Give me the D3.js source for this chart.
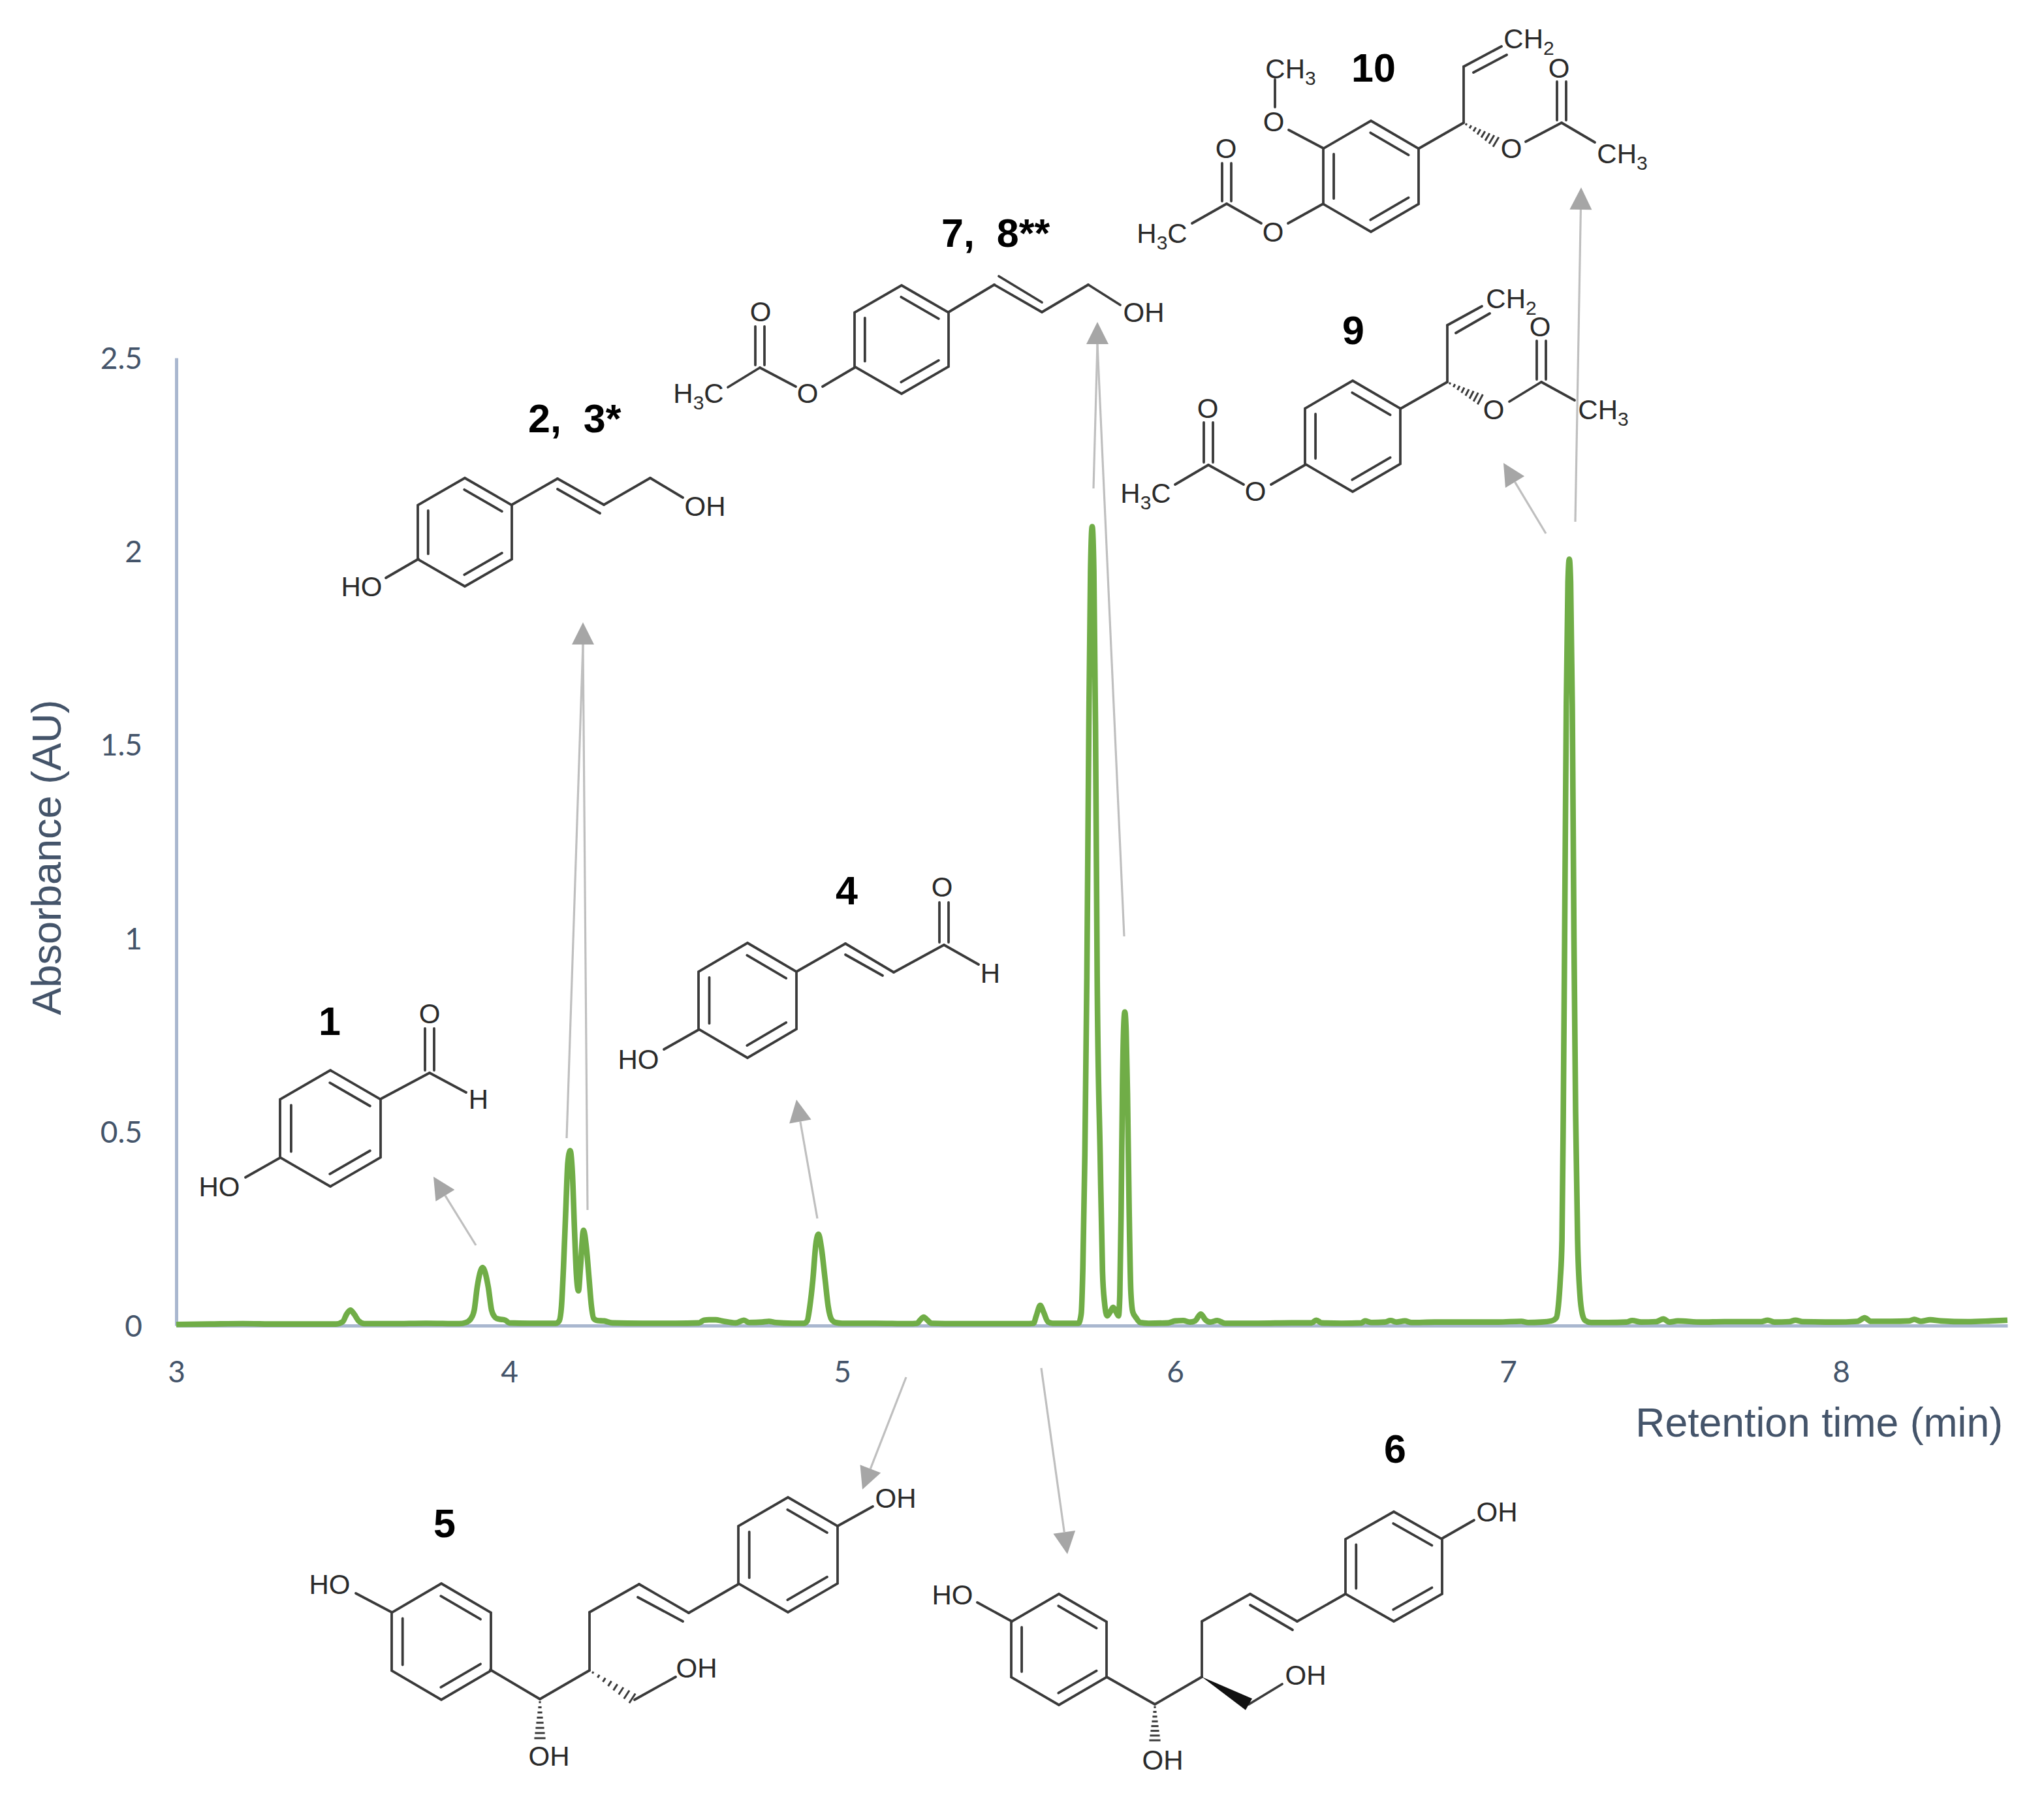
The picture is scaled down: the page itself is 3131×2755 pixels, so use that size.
<!DOCTYPE html>
<html>
<head>
<meta charset="utf-8">
<script src="https://cdnjs.cloudflare.com/ajax/libs/d3/7.8.5/d3.min.js"></script>
<style>
html,body{margin:0;padding:0;background:#fff;}
svg{display:block;}
text{font-family:"Liberation Sans",Arial,sans-serif;}
</style>
</head>
<body>
<svg id="chart" width="3131" height="2755"></svg>
<script>
// ---------- chart data ----------
const xTicks = [3,4,5,6,7,8];
const yTicks = [0,0.5,1,1.5,2,2.5];
const xTitle = "Retention time (min)";
const yTitle = "Absorbance (AU)";

const retentionTime = [
 3.00,3.10,3.20,3.30,3.40,3.48,3.50,3.512,3.523,3.534,3.548,3.565,3.65,3.75,3.85,
 3.87,3.885,3.895,3.904,3.92,3.937,3.947,3.955,3.963,3.975,3.988,4.00,4.06,4.125,
 4.14,4.150,4.157,4.163,4.170,4.176,4.183,4.190,4.196,4.202,4.208,4.214,4.223,4.232,4.240,4.247,4.254,4.265,4.285,4.31,
 4.40,4.50,4.57,4.585,4.60,4.62,4.64,4.68,4.705,4.72,4.76,4.78,4.80,4.85,
 4.885,4.895,4.903,4.912,4.921,4.929,4.937,4.949,4.958,4.968,4.98,5.0,5.1,5.2,
 5.225,5.235,5.245,5.255,5.268,5.35,5.45,5.55,
 5.575,5.583,5.595,5.605,5.618,5.632,5.68,5.71,
 5.718,5.723,5.729,5.735,5.741,5.746,5.751,5.756,5.761,5.766,5.775,5.782,5.788,5.796,5.805,5.814,5.823,5.83,
 5.834,5.838,5.842,5.846,5.849,5.853,5.857,5.862,5.867,5.873,5.883,5.895,5.92,5.98,
 6.0,6.024,6.045,6.06,6.077,6.092,6.105,6.127,6.15,6.25,6.35,6.41,6.424,6.44,6.5,
 6.56,6.57,6.59,6.63,6.647,6.665,6.69,6.71,6.78,6.9,6.97,7.04,7.06,7.10,7.13,
 7.145,7.151,7.157,7.162,7.166,7.170,7.175,7.180,7.184,7.188,7.193,7.198,7.203,7.209,7.216,7.223,7.232,7.25,
 7.30,7.355,7.373,7.40,7.445,7.466,7.485,7.51,7.58,7.65,7.72,7.76,7.78,7.80,7.845,
 7.863,7.885,7.98,8.05,8.071,8.09,8.15,8.205,8.22,8.24,8.268,8.30,8.38,8.45,8.5
];
const absorbance = [
 .003,.004,.005,.004,.004,.004,.010,.030,.040,.030,.012,.005,.005,.006,.005,
 .008,.018,.04,.10,.15,.10,.04,.024,.018,.016,.014,.007,.006,.006,
 .006,.012,.05,.15,.30,.42,.452,.39,.25,.13,.09,.15,.246,.20,.12,.05,.018,.013,.012,.007,
 .006,.006,.007,.014,.015,.015,.012,.007,.014,.008,.009,.011,.008,.006,
 .006,.012,.05,.118,.21,.236,.205,.118,.05,.016,.008,.006,.006,.005,
 .006,.015,.022,.015,.006,.005,.005,.005,
 .006,.025,.052,.035,.01,.006,.006,.006,
 .03,.15,.44,.9,1.55,1.95,2.064,1.95,1.55,.9,.44,.14,.06,.025,.035,.047,.035,.025,
 .08,.3,.62,.78,.81,.76,.6,.3,.09,.035,.02,.008,.006,.007,
 .012,.013,.009,.012,.03,.014,.009,.013,.006,.006,.007,.007,.014,.007,.006,
 .007,.012,.008,.009,.013,.009,.012,.008,.009,.009,.009,.011,.008,.009,.012,
 .02,.05,.12,.22,.55,1.0,1.6,1.92,1.98,1.92,1.6,1.0,.55,.22,.08,.03,.013,.008,
 .008,.009,.013,.009,.01,.017,.009,.012,.009,.01,.01,.01,.014,.009,.01,
 .014,.01,.009,.011,.02,.011,.011,.012,.016,.011,.015,.012,.01,.012,.014
];

// ---------- annotation layout (pixel positions of the drawn structures) ----------
const arrows = [
 {tails:[[729,1907]], tip:[664,1802]},
 {tails:[[868,1743],[900,1853]], tip:[893,953]},
 {tails:[[1252,1866]], tip:[1220,1684]},
 {tails:[[1388,2109]], tip:[1321,2281]},
 {tails:[[1595,2095]], tip:[1635,2380]},
 {tails:[[1675,748],[1722,1434]], tip:[1681,493]},
 {tails:[[2368,817]], tip:[2303,709]},
 {tails:[[2413,799]], tip:[2422,287]}
];

const compoundLabels = [
 ["1",505,1585],["2,  3*",809,662],["4",1297,1385],["5",681,2354],["6",2137,2240],
 ["7,  8**",1442,378],["9",2073,527],["10",2104,125]
];

const molecules = [
 { // 1
  rings:[[506,1728,77,89]],
  bonds:[[429,1773,376,1803],[583,1683,658,1643],[658,1643,714,1673]],
  carbonyls:[[658,1643,1575]],
  labels:[["HO",336,1817],["O",658,1552],["H",733,1683]]
 },
 { // 2, 3
  rings:[[712,815,72,83]],
  bonds:[[641,856,591,885],[784,773,854,733],[854,733,925,773],[925,773,996,732],[996,732,1046,762],[854,749,919,786]],
  labels:[["HO",554,898],["OH",1080,775]]
 },
 { // 4
  rings:[[1145,1532,75,88]],
  bonds:[[1070,1577,1017,1607],[1220,1488,1295,1445],[1295,1445,1369,1489],[1369,1489,1446,1447],[1446,1447,1499,1477],[1295,1462,1352,1494]],
  carbonyls:[[1446,1447,1382]],
  labels:[["HO",978,1622],["O",1443,1358],["H",1517,1490]]
 },
 { // 5
  rings:[[676,2514,76,89],[1207,2381,76,88]],
  bonds:[[600,2469,545,2440],[751,2557,827,2602],[827,2602,903,2558],[903,2558,903,2469],[903,2469,979,2426],[979,2426,1055,2470],
         [977,2446,1046,2483],[1055,2470,1131,2426],[1283,2337,1337,2307],[972,2603,1035,2568]],
  hashes:[[903,2558,972,2603],[827,2602,827,2665]],
  labels:[["HO",505,2426],["OH",1372,2294],["OH",1067,2554],["OH",841,2689]]
 },
 { // 6
  rings:[[1622,2526,73,85],[2135,2399,74,84]],
  bonds:[[1550,2483,1497,2454],[1695,2568,1769,2610],[1769,2610,1841,2568],[1841,2568,1841,2483],[1841,2483,1915,2441],[1915,2441,1987,2483],
         [1915,2458,1980,2496],[1987,2483,2061,2441],[2209,2356,2258,2328],[1913,2610,1964,2579]],
  hashes:[[1769,2610,1769,2668]],
  wedges:[[1841,2568,1913,2610]],
  labels:[["HO",1459,2442],["OH",2293,2315],["OH",2000,2565],["OH",1781,2695]]
 },
 { // 7, 8
  rings:[[1381,520,72,83]],
  bonds:[[1309,563,1260,592],[1219,592,1164,563],[1164,563,1115,593],[1453,478,1523,436],[1523,436,1596,478],[1530,423,1596,463],[1596,478,1667,436],[1667,436,1716,467]],
  carbonyls:[[1164,563,500]],
  labels:[["O",1237,602],["O",1165,477],["H_3C",1070,602],["OH",1752,478]]
 },
 { // 9
  rings:[[2072,668,73,85]],
  bonds:[[1999,712,1947,742],[1905,742,1851,712],[1851,712,1800,742],[2145,626,2217,585],[2217,585,2217,498],[2217,498,2270,469],[2230,510,2282,480],
         [2312,615,2361,585],[2361,585,2412,613]],
  hashes:[[2217,585,2270,613]],
  carbonyls:[[1851,712,647],[2361,585,522]],
  labels:[["O",1923,752],["O",1850,625],["H_3C",1755,755],["CH_2",2315,457],["O",2288,627],["O",2359,500],["CH_3",2456,627]]
 },
 { // 10
  rings:[[2100,270,73,85]],
  bonds:[[2027,227,1974,199],[1953,164,1953,122],[2027,312,1973,342],[1932,342,1879,312],[1879,312,1826,342],[2174,227,2242,188],[2242,188,2242,102],[2242,102,2300,71],[2257,111,2308,84],
         [2337,217,2392,188],[2392,188,2443,218]],
  hashes:[[2242,188,2294,219]],
  carbonyls:[[1879,312,250],[2392,188,125]],
  labels:[["O",1951,186],["CH_3",1977,105],["O",1950,355],["O",1878,227],["H_3C",1780,357],["CH_2",2342,59],["O",2315,227],["O",2388,104],["CH_3",2485,235]]
 }
];

// ---------- styling ----------
const axisColor = "#a9b7cf", textColor = "#44546a", traceColor = "#70ad47",
      bondColor = "#3a3a3a", arrowLine = "#bfbfbf", arrowHead = "#a6a6a6";
const bondWidth = 3.8;

const svg = d3.select("#chart");
const x = d3.scaleLinear().domain([3,8.5]).range([270,3075]);
const y = d3.scaleLinear().domain([0,2.5]).range([2030,548]);

// axes
const gx = svg.append("g").attr("transform",`translate(0,${y(0)})`)
  .call(d3.axisBottom(x).tickValues(xTicks).tickSize(0).tickFormat(d3.format("d")));
const gy = svg.append("g").attr("transform",`translate(${x(3)},0)`)
  .call(d3.axisLeft(y).tickValues(yTicks).tickSize(0).tickFormat(d3.format("~g")));
[gx,gy].forEach(g=>{
  g.select(".domain").attr("stroke",axisColor).attr("stroke-width",5);
  g.selectAll("text").attr("fill",textColor).style("font-family","Lato, 'Liberation Sans', sans-serif").style("font-size","46px");
});
gx.selectAll("text").attr("y",87).attr("dy",0);
gy.selectAll("text").attr("x",-52).attr("dy","0.35em");

svg.append("text").text(xTitle).attr("x",3068).attr("y",2200).attr("text-anchor","end")
  .attr("fill",textColor).style("font-size","62.5px");
svg.append("text").text(yTitle).attr("transform","translate(93,1313) rotate(-90)").attr("text-anchor","middle")
  .attr("fill",textColor).style("font-size","63px");

// molecules
const gm = svg.append("g");
const seg = (g,[a,b,c,d],w)=>g.append("line").attr("x1",a).attr("y1",b).attr("x2",c).attr("y2",d)
   .attr("stroke",bondColor).attr("stroke-width",w||bondWidth).attr("stroke-linecap","round");

function ring(g,[cx,cy,hw,ry]){
  const pts=[[cx,cy-ry],[cx+hw,cy-ry/2],[cx+hw,cy+ry/2],[cx,cy+ry],[cx-hw,cy+ry/2],[cx-hw,cy-ry/2]];
  g.append("path").attr("d",d3.line()(pts)+"Z").attr("fill","none").attr("stroke",bondColor)
    .attr("stroke-width",bondWidth).attr("stroke-linejoin","miter");
  // inner lines of the three double bonds
  [[0,1],[2,3],[4,5]].forEach(([i,j])=>{
    const a=pts[i],b=pts[j];
    const t=0.78, sx=cx+(a[0]+b[0]-2*cx)/2*t, sy=cy+(a[1]+b[1]-2*cy)/2*t;
    const dx=(b[0]-a[0])*0.40, dy=(b[1]-a[1])*0.40;
    seg(g,[sx-dx,sy-dy,sx+dx,sy+dy]);
  });
}
function hash(g,[a,b,c,d]){
  const n=8, L=Math.hypot(c-a,d-b), ux=(c-a)/L, uy=(d-b)/L;
  d3.range(n).forEach(i=>{
    const t=(i+0.6)/n, hw=1+t*8, px=a+(c-a)*t, py=b+(d-b)*t;
    g.append("line").attr("x1",px-uy*hw).attr("y1",py+ux*hw).attr("x2",px+uy*hw).attr("y2",py-ux*hw)
      .attr("stroke",bondColor).attr("stroke-width",3);
  });
}
function wedge(g,[a,b,c,d]){
  const L=Math.hypot(c-a,d-b), ux=(c-a)/L, uy=(d-b)/L, hw=10;
  g.append("polygon").attr("points",`${a},${b} ${c-uy*hw},${d+ux*hw} ${c+uy*hw},${d-ux*hw}`).attr("fill","#111");
}
function label(g,[s,lx,ly]){
  const t=g.append("text").attr("x",lx).attr("y",ly+15).attr("text-anchor","middle")
    .attr("fill","#2a2a2a").style("font-size","42px");
  s.split("_").forEach((part,i)=>{
    if(i===0){ t.append("tspan").text(part); return; }
    t.append("tspan").text(part[0]).attr("dy",10).style("font-size","30px");
    if(part.length>1) t.append("tspan").text(part.slice(1)).attr("dy",-10);
  });
}
molecules.forEach(m=>{
  const g=gm.append("g");
  (m.rings||[]).forEach(r=>ring(g,r));
  (m.bonds||[]).forEach(b=>seg(g,b));
  (m.hashes||[]).forEach(h=>hash(g,h));
  (m.wedges||[]).forEach(w=>wedge(g,w));
  (m.carbonyls||[]).forEach(([cx,cy,ty])=>{
    seg(g,[cx-7,cy-4,cx-7,ty]); seg(g,[cx+7,cy-4,cx+7,ty]);
  });
  (m.labels||[]).forEach(l=>label(g,l));
});
compoundLabels.forEach(([s,lx,ly])=>{
  const start = s.includes(",");
  svg.append("text").text(s).attr("x",lx).attr("y",ly).attr("text-anchor",start?"start":"middle")
    .attr("fill","#000").style("font-size","61px").style("font-weight","700").style("white-space","pre");
});

// arrows
const ga = svg.append("g");
arrows.forEach(({tails,tip})=>{
  const mean=[d3.mean(tails,t=>t[0]),d3.mean(tails,t=>t[1])];
  const tailRef=tails.length>1?[tip[0],tip[1]+100]:mean;
  const L=Math.hypot(tailRef[0]-tip[0],tailRef[1]-tip[1]);
  const ux=(tailRef[0]-tip[0])/L, uy=(tailRef[1]-tip[1])/L, len=34, hw=17;
  const bx=tip[0]+ux*len, by=tip[1]+uy*len;
  tails.forEach(t=>ga.append("line").attr("x1",t[0]).attr("y1",t[1]).attr("x2",bx).attr("y2",by)
     .attr("stroke",arrowLine).attr("stroke-width",3.2));
  ga.append("polygon").attr("fill",arrowHead)
    .attr("points",`${tip[0]},${tip[1]} ${bx-uy*hw},${by+ux*hw} ${bx+uy*hw},${by-ux*hw}`);
});

// trace
const trace = d3.zip(retentionTime,absorbance);
svg.append("path").datum(trace).attr("fill","none").attr("stroke",traceColor)
  .attr("stroke-width",8.6).attr("stroke-linejoin","round")
  .attr("d",d3.line().x(d=>x(d[0])).y(d=>y(d[1])).curve(d3.curveMonotoneX));
</script>
</body>
</html>
